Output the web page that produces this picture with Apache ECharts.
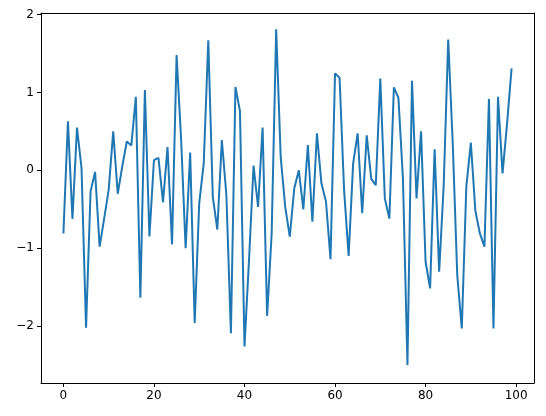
<!DOCTYPE html>
<html>
<head>
<meta charset="utf-8">
<script src="https://cdn.jsdelivr.net/npm/echarts@6/dist/echarts.min.js"></script>
<style>html,body{margin:0;padding:0;background:#fff;}#c{width:546px;height:416px;}</style>
</head>
<body>
<div id="c"></div>
<script>
var values = [-0.81,0.63,-0.625,0.55,0.03,-2.02,-0.27,-0.02,-0.98,-0.62,
-0.25,0.50,-0.30,0.05,0.37,0.32,0.945,-1.635,1.03,-0.85,
0.13,0.16,-0.41,0.30,-0.95,1.48,0.40,-1.0,0.23,-1.96,
-0.42,0.09,1.67,-0.34,-0.76,0.39,-0.32,-2.09,1.07,0.76,
-2.26,-1.15,0.06,-0.47,0.55,-1.87,-0.81,1.81,0.17,-0.47,
-0.85,-0.23,0.0,-0.50,0.325,-0.66,0.475,-0.17,-0.40,-1.14,
1.245,1.19,-0.25,-1.10,0.09,0.475,-0.55,0.45,-0.11,-0.19,
1.18,-0.36,-0.62,1.065,0.93,-0.1,-2.50,1.15,-0.36,0.50,
-1.17,-1.515,0.27,-1.30,-0.2,1.68,0.35,-1.35,-2.03,-0.21,
0.355,-0.52,-0.81,-0.98,0.915,-2.03,0.945,-0.04,0.60,1.31];
var xTicks = [0,20,40,60,80,100];
var yTicks = [-2,-1,0,1,2];

var data = values.map(function(v,i){return [i,v];});
var chart = echarts.init(document.getElementById('c'), null, {renderer:'canvas'});
var lbl = {color:'#000', fontFamily:'DejaVu Sans', fontSize:12};
var frameLine = {show:true, onZero:false, lineStyle:{color:'#000', width:1}};
var xMin = -4.95, xMax = 103.95, yMin = -2.73, yMax = 2.02;
chart.setOption({
  animation:false,
  grid:{left:41, right:12, top:13, bottom:33, show:false, containLabel:false},
  xAxis:[{type:'value', min:xMin, max:xMax, position:'bottom',
    axisLine:frameLine,
    splitLine:{show:false},
    axisTick:{show:true, inside:false, customValues:xTicks, length:4, lineStyle:{color:'#000', width:1}},
    axisLabel:Object.assign({customValues:xTicks, margin:7}, lbl)},
   {type:'value', min:xMin, max:xMax, position:'top',
    axisLine:frameLine, splitLine:{show:false}, axisTick:{show:false}, axisLabel:{show:false}}],
  yAxis:[{type:'value', min:yMin, max:yMax, position:'left',
    axisLine:frameLine,
    splitLine:{show:false},
    axisTick:{show:true, inside:false, customValues:yTicks, length:4, lineStyle:{color:'#000', width:1}},
    axisLabel:Object.assign({customValues:yTicks, margin:7, formatter:function(v){return v<0?'\u2212'+(-v):String(v);}}, lbl)},
   {type:'value', min:yMin, max:yMax, position:'right',
    axisLine:frameLine, splitLine:{show:false}, axisTick:{show:false}, axisLabel:{show:false}}],
  series:[{type:'line', data:data, xAxisIndex:0, yAxisIndex:0, showSymbol:false, symbol:'none',
    lineStyle:{color:'#1f77b4', width:2}}]
});
</script>
</body>
</html>
